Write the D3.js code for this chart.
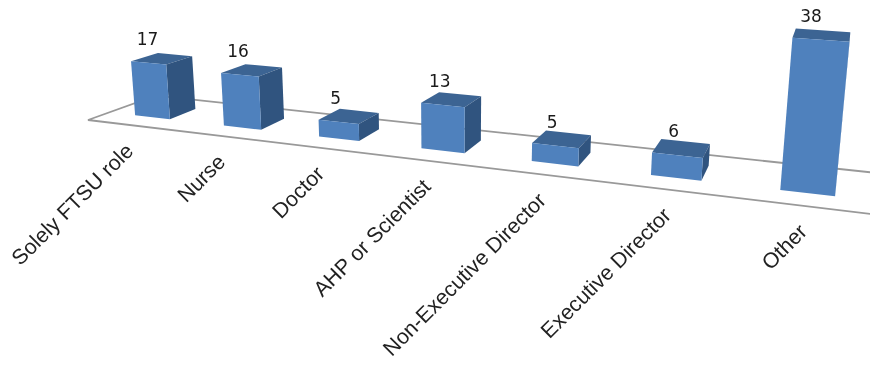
<!DOCTYPE html>
<html><head><meta charset="utf-8">
<script src="https://cdn.jsdelivr.net/npm/d3@7"></script>
<style>html,body{margin:0;padding:0;background:#fff}svg{display:block;filter:blur(.45px)}</style>
</head><body><svg id="c" width="870" height="367"></svg>
<script>
const categories = ["Solely FTSU role","Nurse","Doctor","AHP or Scientist","Non-Executive Director","Executive Director","Other"];
const values = [17,16,5,13,5,6,38];

// Camera: three vanishing points and floor origin, fitted to the picture
const O=[88,120], V1=[-2412,-180], V2=[866,-160], V3=[452,4300];
const A=-0.0343, B=0.0954;
const project=(u,v,h)=>{
  const a=A*u,b=B*v,c=h;
  const w=1+a+b+c;
  return [(O[0]+a*V1[0]+b*V2[0]+c*V3[0])/w,(O[1]+a*V1[1]+b*V2[1]+c*V3[1])/w];
};
const uScale=d3.scaleBand().domain(categories).range([0,categories.length]).paddingInner(.6).paddingOuter(.3);
const vScale=d3.scaleBand().domain(["series"]).range([0,1]).paddingInner(.6).paddingOuter(.3);
const hScale=d3.scaleLinear().domain([0,38]).range([0,-0.029]);
const svg=d3.select("#c");
const line=d3.line().curve(d3.curveLinearClosed);

// Floor
const U=categories.length;
svg.append("path").attr("d",line([project(0,0,0),project(U,0,0),project(U,1,0),project(0,1,0)]))
  .attr("fill","#fff").attr("stroke","#999").attr("stroke-width",1.8);

const v0=vScale("series"),v1=v0+vScale.bandwidth();
const bars=svg.selectAll("g.bar").data(categories.map((c,i)=>({c,v:values[i]}))).join("g").attr("class","bar");
bars.each(function(d){
  const g=d3.select(this),u0=uScale(d.c),u1=u0+uScale.bandwidth(),h=hScale(d.v);
  g.append("path").attr("fill","#3c6493").attr("d",line([project(u0,v0,h),project(u1,v0,h),project(u1,v1,h),project(u0,v1,h)]));
  g.append("path").attr("fill","#30547f").attr("d",line([project(u1,v0,0),project(u1,v1,0),project(u1,v1,h),project(u1,v0,h)]));
  g.append("path").attr("fill","#4f81bd").attr("d",line([project(u0,v0,0),project(u1,v0,0),project(u1,v0,h),project(u0,v0,h)]));
});
// Data labels: anchored part-way along each bar's lean
const mid=d=>uScale(d.c)+uScale.bandwidth()/2;
bars.append("text").text(d=>d.v)
  .attr("x",d=>{const b=project(mid(d),v0,0)[0],t=project(mid(d),v0,hScale(d.v))[0];return b+(t-b)*0.5-3;})
  .attr("y",d=>project(mid(d),v0,hScale(d.v))[1]-18)
  .attr("text-anchor","middle").attr("fill","#1a1a1a")
  .style("font","17px 'DejaVu Sans'");
// Category labels
svg.selectAll("text.cat").data(categories).join("text").attr("class","cat").text(d=>d)
  .attr("transform",d=>{const p=project(uScale(d)+uScale.bandwidth()/2,0,0);return `translate(${p[0]+3},${p[1]+27}) rotate(-45)`;})
  .attr("text-anchor","end").attr("fill","#222")
  .style("font","21.4px 'Liberation Sans'");
</script></body></html>
